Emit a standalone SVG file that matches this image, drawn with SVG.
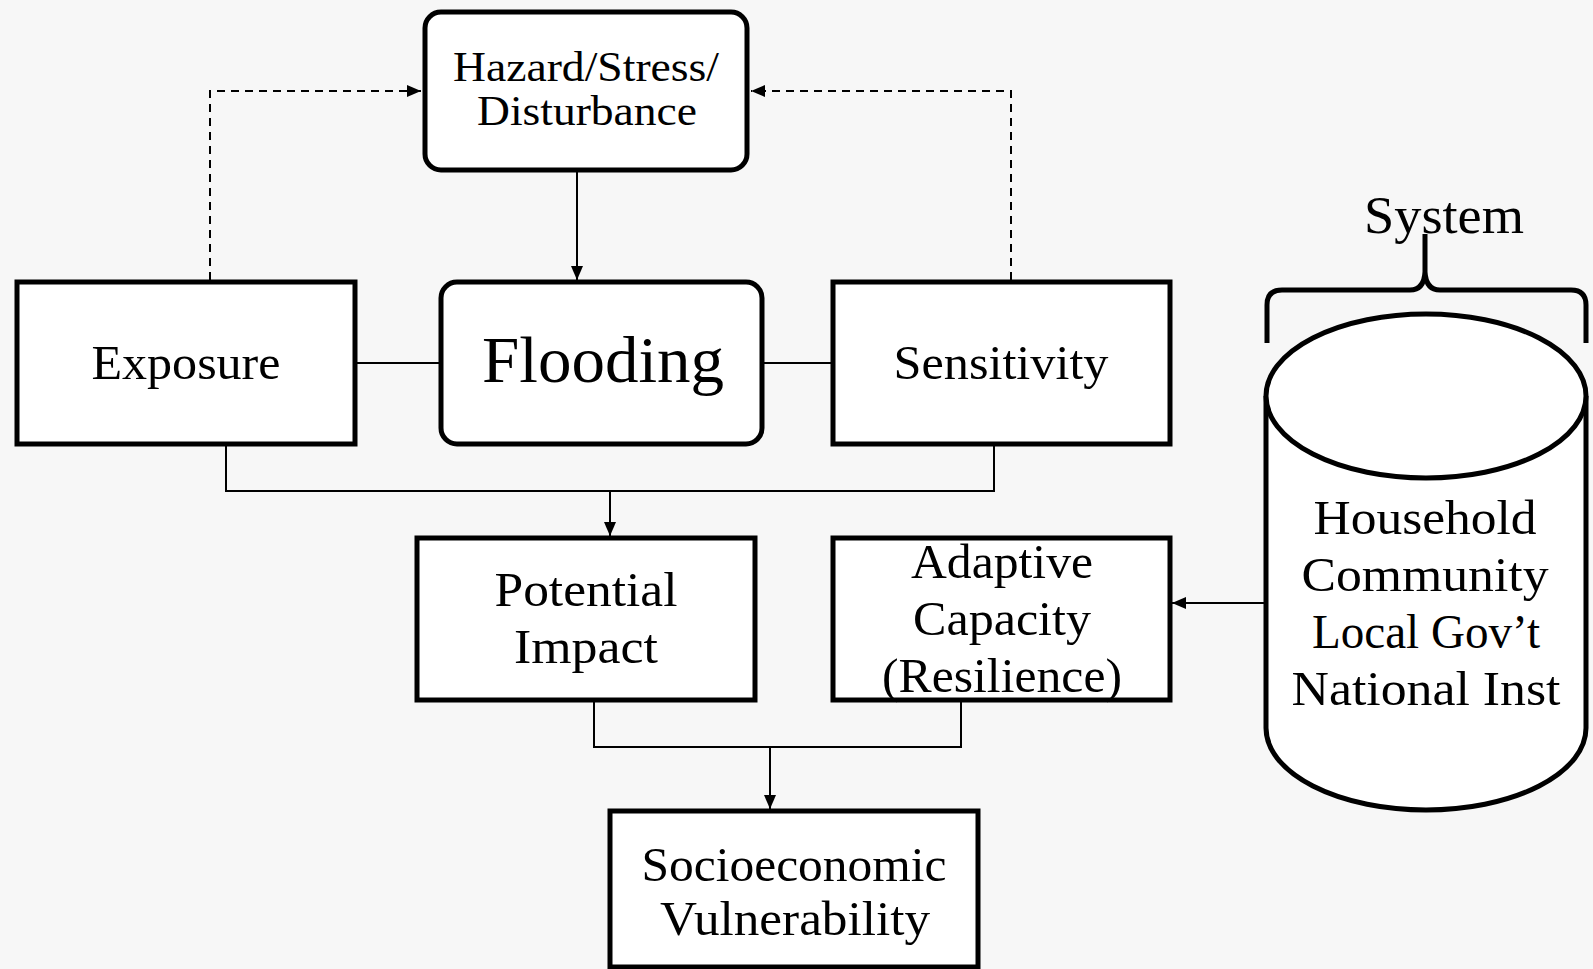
<svg xmlns="http://www.w3.org/2000/svg" width="1593" height="969" viewBox="0 0 1593 969">
<defs>
<style>
.box{fill:#fff;stroke:#000;stroke-width:5}
.conn{fill:none;stroke:#000;stroke-width:2}
.dash{fill:none;stroke:#000;stroke-width:2;stroke-dasharray:8 6}
.t{font-family:"Liberation Serif","Times New Roman",serif;fill:#000;text-anchor:middle}
</style>
<marker id="arr" viewBox="0 0 14 12" refX="14" refY="6" markerWidth="14" markerHeight="12" markerUnits="userSpaceOnUse" orient="auto">
<path d="M0,0 L14,6 L0,12 Z" fill="#000"/>
</marker>
</defs>
<rect x="0" y="0" width="1593" height="969" fill="#f7f7f7"/>

<g id="connectors">
<path class="dash" d="M210,280 V91 H421" marker-end="url(#arr)"/>
<path class="dash" d="M1011,280 V91 H751" marker-end="url(#arr)"/>
<path class="conn" d="M577,171 V280" marker-end="url(#arr)"/>
<path class="conn" d="M355,363 H443"/>
<path class="conn" d="M760,363 H833"/>
<path class="conn" d="M226,444 V491 H994 V444"/>
<path class="conn" d="M610,491 V536" marker-end="url(#arr)"/>
<path class="conn" d="M594,700 V747 H961 V700"/>
<path class="conn" d="M770,747 V809" marker-end="url(#arr)"/>
<path class="conn" d="M1266,603 H1172" marker-end="url(#arr)"/>
</g>

<g id="hazard">
<rect class="box" x="425" y="12" width="322" height="158" rx="16"/>
<text class="t" x="586" y="81" font-size="42" textLength="266" lengthAdjust="spacingAndGlyphs">Hazard/Stress/</text>
<text class="t" x="587" y="125" font-size="42" textLength="220" lengthAdjust="spacingAndGlyphs">Disturbance</text>
</g>

<g id="exposure">
<rect class="box" x="17" y="282" width="338" height="162"/>
<text class="t" x="186" y="379" font-size="48" textLength="189" lengthAdjust="spacingAndGlyphs">Exposure</text>
</g>

<g id="flooding">
<rect class="box" x="441" y="282" width="321" height="162" rx="16"/>
<text class="t" x="603" y="382" font-size="66" textLength="242" lengthAdjust="spacingAndGlyphs">Flooding</text>
</g>

<g id="sensitivity">
<rect class="box" x="833" y="282" width="337" height="162"/>
<text class="t" x="1001" y="379" font-size="48" textLength="215" lengthAdjust="spacingAndGlyphs">Sensitivity</text>
</g>

<g id="potential-impact">
<rect class="box" x="417" y="538" width="338" height="162"/>
<text class="t" x="586" y="606" font-size="48" textLength="183" lengthAdjust="spacingAndGlyphs">Potential</text>
<text class="t" x="586" y="663" font-size="48" textLength="144" lengthAdjust="spacingAndGlyphs">Impact</text>
</g>

<g id="adaptive-capacity">
<rect class="box" x="833" y="538" width="337" height="162"/>
<text class="t" x="1002" y="578" font-size="48" textLength="182" lengthAdjust="spacingAndGlyphs">Adaptive</text>
<text class="t" x="1002" y="635" font-size="48" textLength="178" lengthAdjust="spacingAndGlyphs">Capacity</text>
<text class="t" x="1002" y="692" font-size="48" textLength="240" lengthAdjust="spacingAndGlyphs">(Resilience)</text>
</g>

<g id="socioeconomic-vulnerability">
<rect class="box" x="610" y="811" width="368" height="156"/>
<text class="t" x="794" y="881" font-size="48" textLength="305" lengthAdjust="spacingAndGlyphs">Socioeconomic</text>
<text class="t" x="795" y="935" font-size="48" textLength="270" lengthAdjust="spacingAndGlyphs">Vulnerability</text>
</g>

<g id="system">
<path d="M1267,343 V305 Q1267,290 1282,290 H1410 Q1424,290 1425,272 V234 M1425,272 Q1426,290 1440,290 H1571 Q1586,290 1586,305 V343" fill="none" stroke="#000" stroke-width="5"/>
<text class="t" x="1444" y="233" font-size="53" textLength="160" lengthAdjust="spacingAndGlyphs">System</text>
<path class="box" d="M1266,396 V728 A160,82 0 0 0 1586,728 V396"/>
<ellipse class="box" cx="1426" cy="396" rx="160" ry="82"/>
<text class="t" x="1425" y="534" font-size="48" textLength="223" lengthAdjust="spacingAndGlyphs">Household</text>
<text class="t" x="1425" y="591" font-size="48" textLength="247" lengthAdjust="spacingAndGlyphs">Community</text>
<text class="t" x="1426" y="648" font-size="48" textLength="228" lengthAdjust="spacingAndGlyphs">Local Gov’t</text>
<text class="t" x="1426" y="705" font-size="48" textLength="269" lengthAdjust="spacingAndGlyphs">National Inst</text>
</g>
</svg>
